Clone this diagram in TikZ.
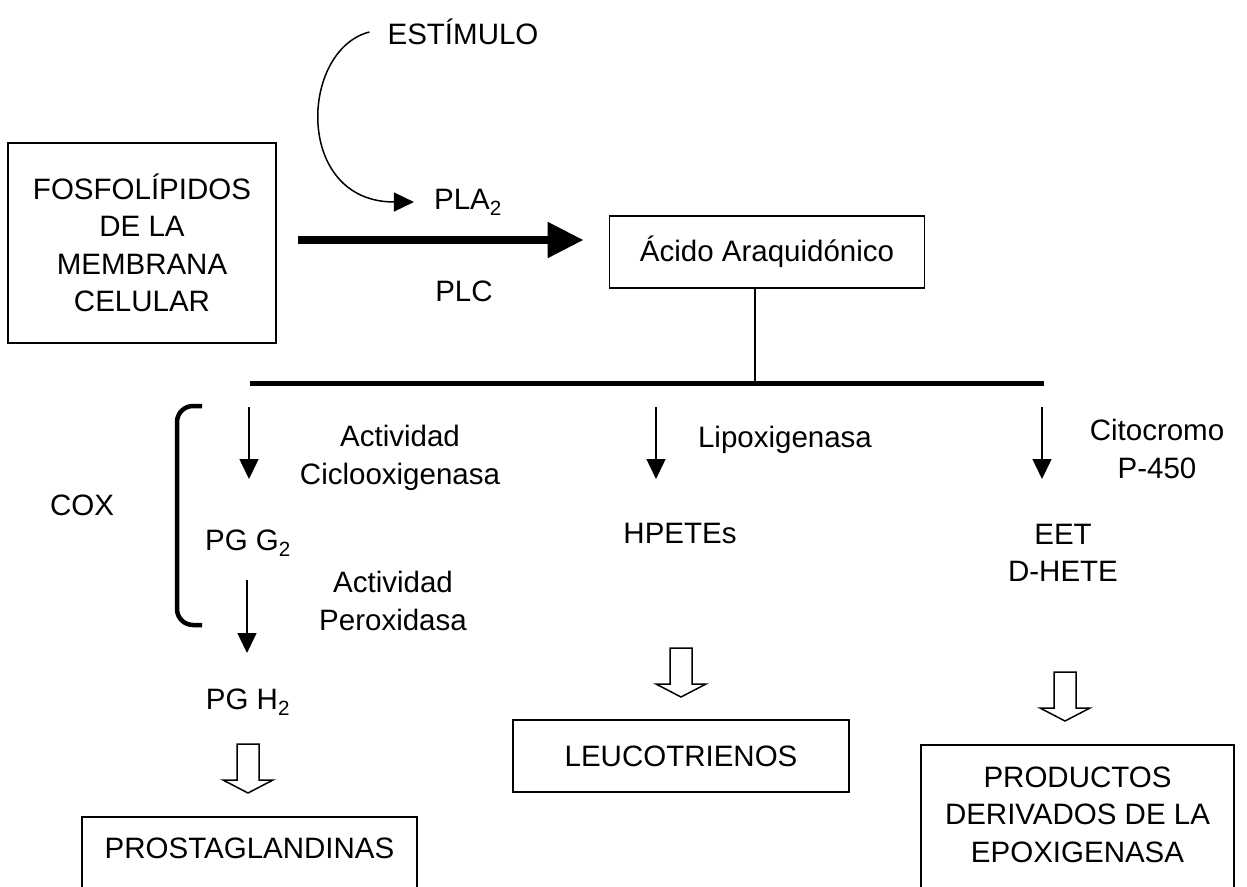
\documentclass[tikz,border=0pt]{standalone}
\usepackage{fontspec}
\setmainfont{Liberation Sans}
\usepackage{tikz}
\usetikzlibrary{arrows.meta}
\usetikzlibrary{calc}
\usetikzlibrary{positioning}

\begin{document}
\begin{tikzpicture}[x=1pt, y=-1pt,
  every node/.style={font=\fontsize{29.5}{37.5}\selectfont, inner sep=0pt, align=center},
  caja/.style={draw, line width=1.7pt},
  flecha/.style={line width=1.5pt, -{Triangle[length=20pt,width=19pt]}},
  gruesa/.style={line width=8pt, -{Triangle[length=36pt,width=34pt]}},
  hueca/.style={line width=1.5pt, line join=miter}]

\useasboundingbox (0,0) rectangle (1247,886);
\clip (0,0) rectangle (1247,886);

% Nodos
\node [caja, minimum width=268pt, minimum height=200pt] at (142,243) (n1) {FOSFOLÍPIDOS\\DE LA\\MEMBRANA\\CELULAR};
\node at (463,32) (n0) {ESTÍMULO};
\node at (468,202) (n2) {PLA\textsubscript{2}};
\node at (464,291) (n3) {PLC};
\node [caja, minimum width=315pt, minimum height=72pt] at (767,252) (n4) {Ácido Araquidónico};

\coordinate (h1) at (250,383);
\coordinate (h2) at (1044,383);
\coordinate (a1) at (249,383);
\coordinate (a2) at (656,383);
\coordinate (a3) at (1042,383);

\node at (82,505) (n5) {COX};
\node at (400,458) (n6) {Actividad\\Ciclooxigenasa};
\node at (248,543) (n7) {PG G\textsubscript{2}};
\node at (393,601) (n8) {Actividad\\Peroxidasa};
\node at (248,702) (n9) {PG H\textsubscript{2}};
\coordinate (f1) at (248,744);
\node [caja, minimum width=335pt, text height=42pt, text depth=40pt, anchor=north] at (249.5,816) (n10) {PROSTAGLANDINAS};

\node at (785,440) (n11) {Lipoxigenasa};
\node at (680,533) (n12) {HPETEs};
\coordinate (f2) at (681,648);
\node [caja, minimum width=336pt, minimum height=72pt] at (681,756) (n13) {LEUCOTRIENOS};

\node at (1157,449) (n14) {Citocromo\\P-450};
\node at (1063,553) (n15) {EET\\D-HETE};
\coordinate (f3) at (1065,672);
\node [caja, minimum width=313pt, text depth=60pt, anchor=north, inner ysep=22pt] at (1077.5,744) (n16) {PRODUCTOS\\DERIVADOS DE LA\\EPOXIGENASA};

% Conexiones
\coordinate (c1) at ([yshift=3pt]n1.east);
\draw[gruesa, shorten <=21pt, shorten >=25pt] (c1) -- (c1 -| n4.west);
\draw[flecha] ([xshift=-18pt]n0.west) .. controls +(-70,18) and +(-120,0) .. ([xshift=-20pt]n2.west);

\coordinate (v1) at ([xshift=-12pt]n4.south);
\draw[line width=1.5pt] (v1) -- (v1 |- h1);
\draw[line width=5pt] (h1) -- (h2);

\draw[flecha] (a1) ++(0,24) -- ++(0,72);
\draw[flecha] (a2) ++(0,24) -- ++(0,72);
\draw[flecha] (a3) ++(0,24) -- ++(0,72);
\draw[flecha] (n7.center) ++(-1,37) -- ++(0,73);

% Flechas huecas
\draw[hueca] (f1) ++(-11,0) -- ++(22,0) -- ++(0,36) -- ++(14,0) -- ++(-25,13) -- ++(-25,-13) -- ++(14,0) -- cycle;
\draw[hueca] (f2) ++(-11,0) -- ++(22,0) -- ++(0,36) -- ++(14,0) -- ++(-25,13) -- ++(-25,-13) -- ++(14,0) -- cycle;
\draw[hueca] (f3) ++(-11,0) -- ++(22,0) -- ++(0,36) -- ++(14,0) -- ++(-25,13) -- ++(-25,-13) -- ++(14,0) -- cycle;

% Corchete COX
\draw[line width=4.5pt, rounded corners=16pt] (202,406) -- (177,406) -- (177,625) -- (202,625);

\end{tikzpicture}
\end{document}
